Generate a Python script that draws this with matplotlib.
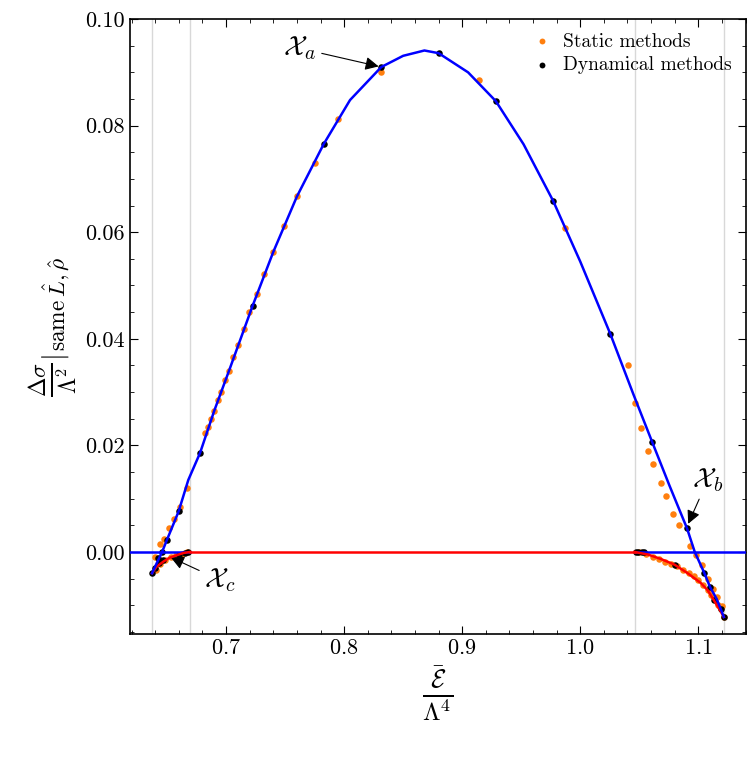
import numpy as np
import matplotlib.pyplot as plt

plt.rcParams['font.family'] = 'serif'
plt.rcParams['font.serif'] = ['cmr10']
plt.rcParams['mathtext.fontset'] = 'cm'
plt.rcParams['axes.formatter.use_mathtext'] = True

# stable (blue) branch
blue_x = [0.6373, 0.6415, 0.6458, 0.650, 0.6598, 0.668, 0.678, 0.690, 0.7025, 0.7225, 0.740, 0.760,
          0.7826, 0.805, 0.8315, 0.850, 0.868, 0.880, 0.905, 0.9285, 0.952, 0.977, 1.000, 1.0255,
          1.045, 1.061, 1.0755, 1.0905, 1.097, 1.105, 1.110, 1.1155, 1.119, 1.1216]
blue_y = [-0.0040, -0.0020, 0.0, 0.0023, 0.0076, 0.0135, 0.0186, 0.0265, 0.0340, 0.0462, 0.0563, 0.0667,
          0.0765, 0.0848, 0.0910, 0.0931, 0.0941, 0.0936, 0.0900, 0.0846, 0.0765, 0.0659, 0.0545, 0.0409,
          0.0296, 0.0206, 0.0125, 0.0044, 0.0, -0.0039, -0.0066, -0.0088, -0.0107, -0.0122]

# unstable (red) branches
red_lx = [0.6373, 0.641, 0.647, 0.652, 0.6584, 0.664, 0.6696]
red_ly = [-0.0040, -0.0028, -0.0018, -0.0011, -0.0006, -0.0002, 0.0]
red_rx = [1.046, 1.0575, 1.068, 1.080, 1.091, 1.102, 1.108, 1.113, 1.118, 1.1216]
red_ry = [0.0, -0.0005, -0.0013, -0.0024, -0.0040, -0.0058, -0.0072, -0.0090, -0.0108, -0.0122]

zero_blue_l = [0.6186, 0.6696]
zero_red = [0.6696, 1.046]
zero_blue_r = [1.046, 1.14]

vlines = [0.637, 0.6696, 1.046, 1.1216]

dyn_x = [0.6373, 0.6395, 0.642, 0.6458, 0.650, 0.6598, 0.678, 0.7225, 0.7826, 0.8315, 0.880,
         0.9285, 0.977, 1.0255, 1.061, 1.0905, 1.105, 1.110, 1.119, 1.1216,
         0.6435, 0.6465, 0.660, 0.665, 0.668, 1.047, 1.049, 1.052, 1.054, 1.080, 1.113]
dyn_y = [-0.0040, -0.0030, -0.0012, 0.0, 0.0023, 0.0076, 0.0186, 0.0462, 0.0765, 0.0910, 0.0936,
         0.0846, 0.0659, 0.0409, 0.0206, 0.0044, -0.0039, -0.0066, -0.0107, -0.0122,
         -0.0020, -0.0016, -0.0005, -0.0002, 0.0, 0.0, 0.0, -0.0001, -0.0001, -0.0024, -0.0090]

sta_x = [0.640, 0.644, 0.6475, 0.652, 0.656, 0.661, 0.667, 0.682, 0.685, 0.6875, 0.690, 0.693,
         0.6955, 0.6995, 0.7025, 0.706, 0.710, 0.715, 0.7195, 0.726, 0.732, 0.740, 0.749, 0.760,
         0.775, 0.795, 0.8315, 0.914, 0.9875, 1.0405, 1.0465, 1.0515, 1.057, 1.062, 1.068, 1.073,
         1.079, 1.084, 1.093, 1.098, 1.103, 1.108, 1.1125, 1.116, 1.120,
         0.6405, 0.644, 0.648, 0.653, 0.658, 0.663, 0.667,
         1.050, 1.056, 1.062, 1.067, 1.072, 1.077, 1.082, 1.087, 1.092, 1.096, 1.100, 1.104,
         1.108, 1.111, 1.114, 1.117, 1.119, 1.1216]
sta_y = [-0.0010, 0.0015, 0.0025, 0.0045, 0.0062, 0.0085, 0.0120, 0.0223, 0.0235, 0.0250, 0.0265,
         0.0285, 0.0300, 0.0322, 0.0340, 0.0365, 0.0388, 0.0418, 0.0450, 0.0484, 0.0521, 0.0563,
         0.0611, 0.0667, 0.0730, 0.0812, 0.0900, 0.0886, 0.0608, 0.0350, 0.0280, 0.0233, 0.0190,
         0.0165, 0.0130, 0.0105, 0.0072, 0.0050, 0.0012, -0.0005, -0.0025, -0.0050, -0.0070, -0.0085,
         -0.0102,
         -0.0033, -0.0022, -0.0016, -0.0010, -0.0006, -0.0003, -0.0001,
         0.0, -0.0004, -0.0009, -0.0013, -0.0018, -0.0022, -0.0027, -0.0033, -0.0040, -0.0046,
         -0.0053, -0.0062, -0.0072, -0.0080, -0.0089, -0.0099, -0.0106, -0.0122]

fig = plt.figure(figsize=(7.47, 7.62), dpi=100)
ax = fig.add_axes([0.174, 0.168, 0.824, 0.807])

for v in vlines:
    ax.axvline(v, color='#d8d8d8', lw=1, zorder=0)

ax.scatter(sta_x, sta_y, s=22, color='#ff7f0e', zorder=2, label='Static methods', lw=0)
ax.scatter(dyn_x, dyn_y, s=22, color='black', zorder=3, label='Dynamical methods', lw=0)
ax.plot(zero_blue_l, [0, 0], color='blue', lw=1.8, zorder=4)
ax.plot(zero_blue_r, [0, 0], color='blue', lw=1.8, zorder=4)
ax.plot(red_lx, red_ly, color='red', lw=1.8, zorder=4)
ax.plot(red_rx, red_ry, color='red', lw=1.8, zorder=4)
ax.plot(zero_red, [0, 0], color='red', lw=1.8, zorder=4)
ax.plot(blue_x, blue_y, color='blue', lw=1.8, zorder=5)

arrow = dict(arrowstyle='-|>', color='black', lw=0.8)
ax.annotate(r'$\mathcal{X}_a$', xy=(0.8315, 0.0910), xytext=(0.7625, 0.0945),
            fontsize=20, arrowprops=arrow, va='center', ha='center')
ax.annotate(r'$\mathcal{X}_b$', xy=(1.0905, 0.0048), xytext=(1.108, 0.0135),
            fontsize=20, arrowprops=arrow, va='center', ha='center')
ax.annotate(r'$\mathcal{X}_c$', xy=(0.651, -0.0008), xytext=(0.695, -0.0053),
            fontsize=20, arrowprops=arrow, va='center', ha='center')

ax.set_xlim(0.6186, 1.14)
ax.set_ylim(-0.0154, 0.1)
ax.set_xticks([0.7, 0.8, 0.9, 1.0, 1.1])
ax.set_xticks(np.arange(0.62, 1.141, 0.02), minor=True)
ax.set_yticks([0.0, 0.02, 0.04, 0.06, 0.08, 0.10])
ax.set_yticks(np.arange(-0.015, 0.1001, 0.005), minor=True)
ax.set_yticklabels(['0.00', '0.02', '0.04', '0.06', '0.08', '0.10'])
ax.tick_params(which='both', direction='in', top=True, right=True, labelsize=16)
ax.tick_params(which='major', length=6)
ax.tick_params(which='minor', length=3)
for s in ax.spines.values():
    s.set_linewidth(1.2)

ax.set_xlabel(r'$\frac{\bar{\mathcal{E}}}{\Lambda^4}$', fontsize=26)
ax.set_ylabel(r'$\frac{\Delta\sigma}{\Lambda^2}\left|_{\mathrm{same}\,\hat{L},\hat{\rho}}\right.$', fontsize=24)

ax.legend(loc='upper right', frameon=False, fontsize=14, handletextpad=0.1,
          borderpad=0.2, markerscale=0.9, labelspacing=0.3)

fig.savefig('out.png', dpi=100)
